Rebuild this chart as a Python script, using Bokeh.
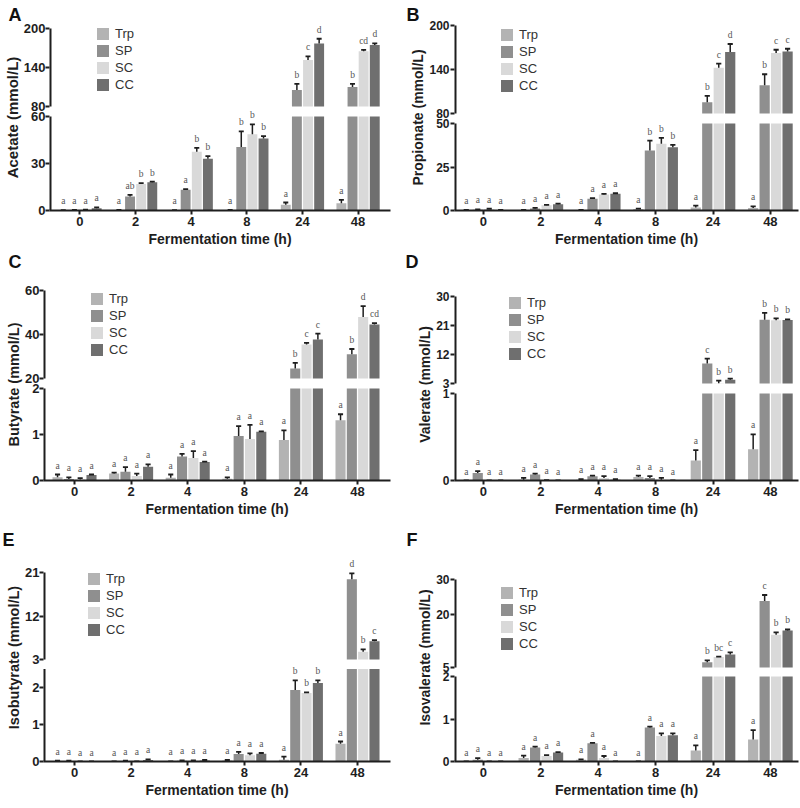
import numpy as np
from bokeh.plotting import figure
from bokeh.models import (Range1d, FixedTicker, ColumnDataSource,
                          LabelSet, Legend, LegendItem, Title)
from bokeh.layouts import row, column
from bokeh.embed import file_html
from bokeh.resources import INLINE

# ---------------- data ----------------
times = ["0", "2", "4", "8", "24", "48"]
groups = ["Trp", "SP", "SC", "CC"]
colors = ["#b3b3b3", "#8f8f8f", "#d9d9d9", "#6f6f6f"]

# rows: Trp, SP, SC, CC ; columns: times
acetate_mean = [[0.2, 0.3, 0.2, 0.3, 3.6, 4.7],
                [0.3, 9.0, 13.3, 40.5, 105.3, 110.1],
                [0.5, 16.9, 37.5, 48.6, 151.7, 165.1],
                [1.5, 18.0, 33.0, 46.0, 177.0, 174.6]]
acetate_err = [[0.1, 0.1, 0.1, 0.1, 1.5, 2.1],
               [0.1, 1.0, 0.4, 10.0, 9.6, 4.8],
               [0.1, 0.6, 2.5, 6.4, 5.3, 1.9],
               [0.5, 0.4, 1.7, 1.5, 7.2, 2.4]]
acetate_sig = [["a", "a", "a", "a", "a", "a"],
               ["a", "ab", "a", "b", "b", "b"],
               ["a", "b", "b", "b", "c", "cd"],
               ["a", "b", "b", "b", "d", "d"]]

propionate_mean = [[0.2, 0.2, 0.3, 0.9, 1.7, 1.5],
                   [0.5, 1.2, 6.8, 34.5, 95.4, 118.5],
                   [0.8, 3.0, 9.2, 38.3, 142.5, 162.4],
                   [0.3, 3.6, 9.6, 36.4, 163.8, 164.7]]
propionate_err = [[0.1, 0.1, 0.1, 0.2, 1.1, 0.9],
                  [0.1, 0.3, 0.3, 5.7, 8.6, 15.0],
                  [0.2, 0.2, 0.4, 3.4, 5.4, 4.5],
                  [0.1, 0.3, 0.3, 1.3, 11.0, 3.6]]
propionate_sig = [["a", "a", "a", "a", "a", "a"],
                  ["a", "a", "a", "b", "b", "b"],
                  ["a", "a", "a", "b", "c", "c"],
                  ["a", "a", "a", "b", "d", "c"]]

butyrate_mean = [[0.07, 0.15, 0.06, 0.04, 0.88, 1.31],
                 [0.03, 0.19, 0.52, 0.97, 24.5, 31.0],
                 [0.02, 0.10, 0.49, 0.90, 35.4, 47.9],
                 [0.12, 0.30, 0.40, 1.06, 37.7, 44.6]]
butyrate_err = [[0.06, 0.02, 0.07, 0.03, 0.21, 0.13],
                [0.04, 0.10, 0.06, 0.21, 2.6, 2.4],
                [0.03, 0.05, 0.15, 0.31, 0.8, 5.0],
                [0.01, 0.05, 0.01, 0.01, 2.7, 0.6]]
butyrate_sig = [["a", "a", "a", "a", "a", "a"],
                ["a", "a", "a", "a", "b", "b"],
                ["a", "a", "a", "a", "c", "d"],
                ["a", "a", "a", "a", "c", "cd"]]

valerate_mean = [[0.0, 0.01, 0.01, 0.04, 0.23, 0.36],
                 [0.087, 0.068, 0.05, 0.03, 9.2, 22.8],
                 [0.0, 0.005, 0.03, 0.01, 3.1, 22.6],
                 [0.0, 0.0, 0.01, 0.0, 4.2, 22.7]]
valerate_err = [[0.0, 0.02, 0.005, 0.015, 0.12, 0.17],
                [0.02, 0.01, 0.005, 0.02, 1.5, 2.1],
                [0.0, 0.0, 0.02, 0.02, 0.8, 0.6],
                [0.0, 0.0, 0.005, 0.0, 0.3, 0.2]]
valerate_sig = [["a", "a", "a", "a", "a", "a"],
                ["a", "a", "a", "a", "c", "b"],
                ["a", "a", "a", "a", "b", "b"],
                ["a", "a", "a", "a", "b", "b"]]

isobutyrate_mean = [[0.01, 0.0, 0.005, 0.03, 0.05, 0.48],
                    [0.01, 0.01, 0.02, 0.20, 1.93, 19.6],
                    [0.0, 0.005, 0.02, 0.17, 1.85, 4.6],
                    [0.0, 0.04, 0.03, 0.21, 2.12, 6.8]]
isobutyrate_err = [[0.01, 0.0, 0.0, 0.01, 0.08, 0.06],
                   [0.01, 0.01, 0.01, 0.06, 0.26, 1.2],
                   [0.0, 0.0, 0.01, 0.05, 0.02, 0.5],
                   [0.0, 0.02, 0.01, 0.02, 0.07, 0.2]]
isobutyrate_sig = [["a", "a", "a", "a", "a", "a"],
                   ["a", "a", "a", "a", "b", "d"],
                   ["a", "a", "a", "a", "b", "b"],
                   ["a", "a", "a", "a", "b", "c"]]

isovalerate_mean = [[0.0, 0.08, 0.04, 0.0, 0.26, 0.52],
                    [0.04, 0.33, 0.43, 0.80, 6.5, 23.9],
                    [0.0, 0.13, 0.08, 0.60, 8.0, 14.3],
                    [0.0, 0.21, 0.0, 0.62, 8.7, 15.5]]
isovalerate_err = [[0.0, 0.06, 0.01, 0.0, 0.12, 0.22],
                   [0.04, 0.02, 0.01, 0.02, 0.5, 1.7],
                   [0.0, 0.02, 0.05, 0.06, 0.1, 0.7],
                   [0.0, 0.01, 0.0, 0.04, 0.6, 0.3]]
isovalerate_sig = [["a", "a", "a", "a", "a", "a"],
                   ["a", "a", "a", "a", "b", "c"],
                   ["a", "a", "a", "a", "bc", "b"],
                   ["a", "a", "a", "a", "c", "b"]]

# ---------------- style ----------------
FONT = "Liberation Sans"
INK = "#1e1e1e"
OFFSETS = [-0.3, -0.1, 0.1, 0.3]
BAR_W = 0.178
CAP = 0.045


def fmt(v):
    return ("%g" % v)


def letter_title(text, offset, standoff):
    return Title(text=text, align="left", offset=offset, standoff=standoff,
                 text_font=FONT, text_font_style="bold", text_font_size="18px",
                 text_color="#111111")


def panel(ylabel, mean, err, sig, lo_max, lo_ticks, hi_min, hi_max, hi_ticks, g):
    head, h_hi, gap, h_lo = g["head"], g["h_hi"], g["gap"], g["h_lo"]
    H = head + h_hi + gap + h_lo
    lo_end = lo_max * H / h_lo
    slope = (hi_max - hi_min) / h_hi
    hi_start = hi_min - (h_lo + gap) * slope
    hi_end = hi_max + head * slope
    p = figure(width=int(g["w"]), height=int(round(g["top"] + H + g["bottom"])),
               output_backend="svg", toolbar_location=None,
               x_range=Range1d(g["x0"], g["x1"]), y_range=Range1d(0, lo_end),
               min_border_left=g["left"], min_border_right=g["right"],
               min_border_top=g["top"], min_border_bottom=g["bottom"])
    p.extra_y_ranges = {"hi": Range1d(hi_start, hi_end)}
    p.outline_line_color = None
    p.xgrid.visible = False
    p.ygrid.visible = False

    # broken y axis: one axis whose ticks sit on both segments
    hi_pos = [(v - hi_start) / (hi_end - hi_start) * lo_end for v in hi_ticks]
    ya = p.yaxis[0]
    ya.ticker = FixedTicker(ticks=list(lo_ticks) + hi_pos)
    overrides = {float(v): fmt(v) for v in lo_ticks}
    overrides.update({pos: fmt(v) for pos, v in zip(hi_pos, hi_ticks)})
    ya.major_label_overrides = overrides
    ya.axis_line_color = None
    ya.major_tick_line_color = INK
    ya.major_tick_line_width = 2
    ya.major_tick_out = 4
    ya.major_tick_in = 0
    ya.minor_tick_line_color = None
    ya.major_label_text_font = FONT
    ya.major_label_text_font_style = "bold"
    ya.major_label_text_font_size = g["tick_fs"]
    ya.major_label_text_color = INK
    ya.major_label_standoff = g["tick_so"]
    ya.axis_label = ylabel
    ya.axis_label_text_font = FONT
    ya.axis_label_text_font_style = "bold"
    ya.axis_label_text_font_size = g["ylab_fs"]
    ya.axis_label_text_color = INK
    ya.axis_label_standoff = 0
    # axis line segments (with the break)
    p.segment(x0=[g["x0"]], y0=[0], x1=[g["x0"]], y1=[lo_max], line_color=INK, line_width=4)
    p.segment(x0=[g["x0"]], y0=[hi_min], x1=[g["x0"]], y1=[hi_max], line_color=INK,
              line_width=4, y_range_name="hi")

    xa = p.xaxis[0]
    xa.ticker = FixedTicker(ticks=list(range(len(times))))
    xa.major_label_overrides = {i: t for i, t in enumerate(times)}
    xa.axis_line_color = INK
    xa.axis_line_width = 2
    xa.major_tick_line_color = INK
    xa.major_tick_line_width = 2
    xa.major_tick_out = 4
    xa.major_tick_in = 0
    xa.minor_tick_line_color = None
    xa.major_label_text_font = FONT
    xa.major_label_text_font_style = "bold"
    xa.major_label_text_font_size = "13px"
    xa.major_label_text_color = INK
    xa.major_label_standoff = 2
    xa.axis_label = "Fermentation time (h)"
    xa.axis_label_text_font = FONT
    xa.axis_label_text_font_style = "bold"
    xa.axis_label_text_font_size = "14px"
    xa.axis_label_text_color = INK
    xa.axis_label_standoff = 2

    idx = np.arange(len(times))
    lo_renderers = []
    for k, name in enumerate(groups):
        m = np.array(mean[k], dtype=float)
        e = np.array(err[k], dtype=float)
        s = np.array(sig[k])
        x = idx + OFFSETS[k]
        r = p.vbar(x=x, top=np.minimum(m, lo_max), bottom=0, width=BAR_W,
                   fill_color=colors[k], line_color=None)
        lo_renderers.append(r)
        hi = m > hi_min
        if hi.any():
            p.vbar(x=x[hi], top=m[hi], bottom=hi_min, width=BAR_W,
                   fill_color=colors[k], line_color=None, y_range_name="hi")
        for mask, rng in ((~hi, "default"), (hi, "hi")):
            if not mask.any():
                continue
            src = ColumnDataSource(dict(x=x[mask], y=m[mask], yt=(m + e)[mask],
                                        xl=x[mask] - CAP, xr=x[mask] + CAP, s=s[mask]))
            p.segment(x0="x", y0="y", x1="x", y1="yt", source=src, line_color=INK,
                      line_width=1.5, y_range_name=rng)
            p.segment(x0="xl", y0="yt", x1="xr", y1="yt", source=src, line_color=INK,
                      line_width=1.8, y_range_name=rng)
            p.add_layout(LabelSet(x="x", y="yt", text="s", source=src, y_range_name=rng,
                                  y_offset=6, text_align="center", text_baseline="alphabetic",
                                  text_font=FONT, text_font_size="9.5px", text_color="#555555"))

    frame_top = g["row"] + g["top"]
    vy = H - 68 - (g["ly"] - 8.5 - frame_top)
    leg = Legend(items=[LegendItem(label=n, renderers=[r]) for n, r in zip(groups, lo_renderers)],
                 location=(g["lx"], vy),
                 glyph_width=15, glyph_height=15, label_height=17, label_standoff=5,
                 spacing=0, padding=0, margin=0, border_line_color=None,
                 background_fill_alpha=0, label_text_font=FONT,
                 label_text_font_size="13px", label_text_color="#333333")
    p.add_layout(leg)

    if g.get("above"):
        p.add_layout(letter_title(g["above"], g["toff"], g["tstand"]), "above")
    if g.get("below"):
        p.add_layout(letter_title(g["below"], g["boff"], 0), "below")
    return p


LEFT = dict(w=400, left=43, right=10, x0=-0.548, x1=5.583, toff=-41, boff=-41,
            tick_fs="13px", tick_so=0, ylab_fs="14.5px")
RIGHT = dict(w=400, left=54, right=2, x0=-0.505, x1=5.49, toff=-48, boff=-49,
             tick_fs="12px", tick_so=1, ylab_fs="14px")

# rows share frame top/bottom: row 1 y 0..271 ; row 2 271..521 ; row 3 521..807
pA = panel("Acetate (mmol/L)", acetate_mean, acetate_err, acetate_sig,
           60, [0, 30, 60], 80, 200, [80, 140, 200],
           dict(LEFT, row=0, top=24, head=4, h_hi=78, gap=10, h_lo=94, bottom=61,
                lx=46, ly=33, above="A", tstand=0, below="C", ylab_fs="15px"))
pB = panel("Propionate (mmol/L)", propionate_mean, propionate_err, propionate_sig,
           50, [0, 25, 50], 80, 200, [80, 140, 200],
           dict(RIGHT, row=0, top=24, head=1, h_hi=88, gap=10, h_lo=87, bottom=61,
                lx=45, ly=34, above="B", tstand=0, below="D"))
pC = panel("Butyrate (mmol/L)", butyrate_mean, butyrate_err, butyrate_sig,
           2, [0, 1, 2], 20, 60, [20, 40, 60],
           dict(LEFT, row=271, top=17, head=2, h_hi=88, gap=10, h_lo=92, bottom=41,
                lx=46, ly=298))
pD = panel("Valerate (mmol/L)", valerate_mean, valerate_err, valerate_sig,
           1, [0, 1], 3, 30, [3, 12, 21, 30],
           dict(RIGHT, row=271, top=17, head=8, h_hi=87, gap=10, h_lo=87, bottom=41,
                lx=53, ly=302))
pE = panel("Isobutyrate (mmol/L)", isobutyrate_mean, isobutyrate_err, isobutyrate_sig,
           2.5, [0, 1, 2], 3, 21, [3, 12, 21],
           dict(LEFT, row=521, top=32, head=19, h_hi=87, gap=9.5, h_lo=92.5, bottom=46,
                lx=43, ly=578, above="E", tstand=8))
pF = panel("Isovalerate (mmol/L)", isovalerate_mean, isovalerate_err, isovalerate_sig,
           2, [0, 1, 2], 5, 30, [5, 20, 30],
           dict(RIGHT, row=521, top=32, head=26, h_hi=88, gap=9, h_lo=85, bottom=46,
                lx=45, ly=592, above="F", tstand=8))

layout = column(row(pA, pB), row(pC, pD), row(pE, pF))
open("out.html", "w").write(file_html(layout, INLINE))
